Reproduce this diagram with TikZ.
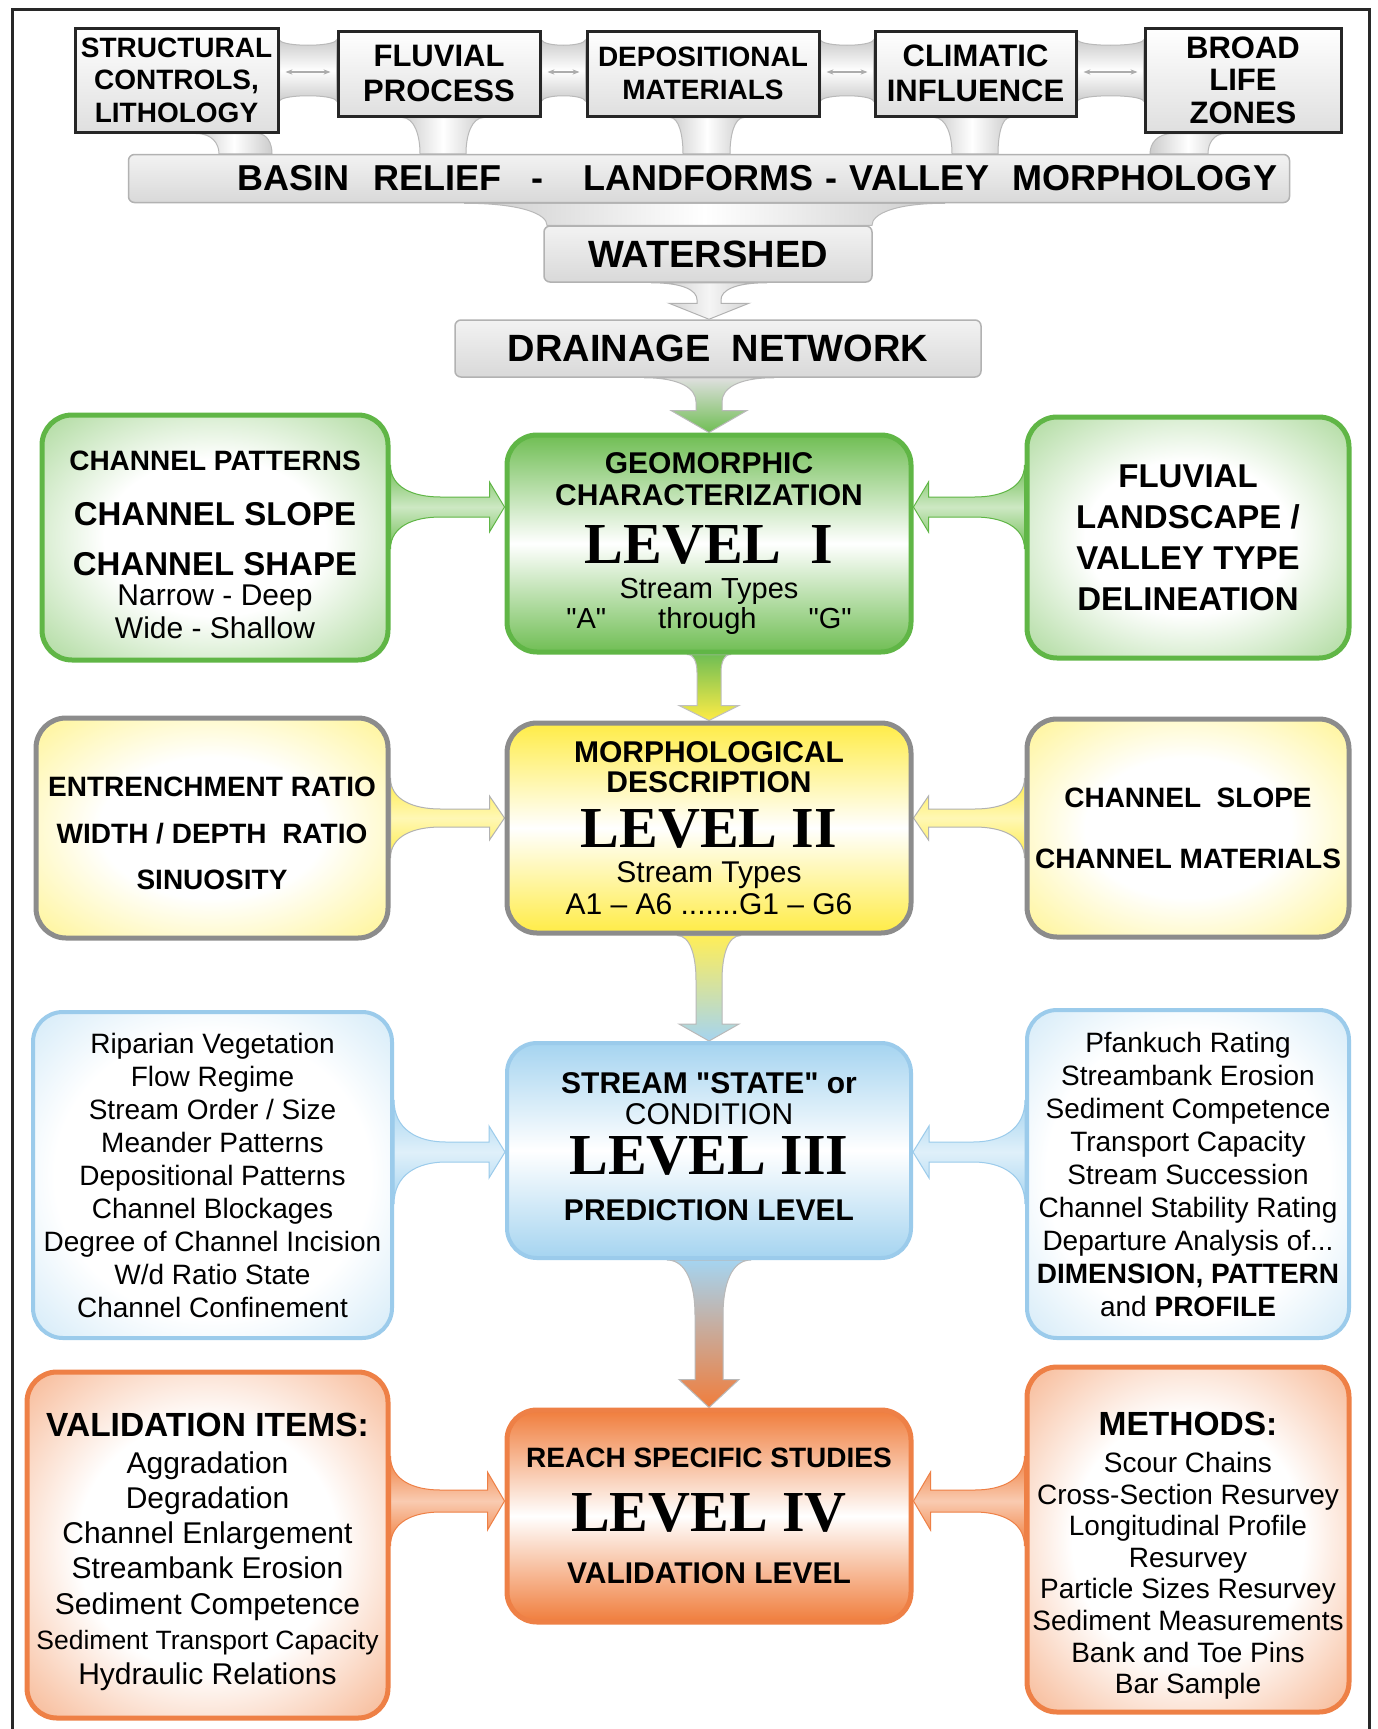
\documentclass[tikz,border=0pt]{standalone}
\usepackage{fontspec}
\setmainfont{Liberation Sans}[Ligatures=TeXOff]
\newfontfamily\levelfont{Liberation Serif}
\usetikzlibrary{calc,backgrounds,arrows.meta}

\definecolor{GrnFill}{RGB}{112,190,84}
\definecolor{GrnLine}{RGB}{96,182,70}
\definecolor{YelFill}{RGB}{255,236,70}
\definecolor{YelLine}{RGB}{140,140,140}
\definecolor{BluFill}{RGB}{165,212,240}
\definecolor{BluLine}{RGB}{155,203,235}
\definecolor{OrgFill}{RGB}{240,125,60}
\definecolor{OrgLine}{RGB}{238,128,70}
\definecolor{FrameGrey}{RGB}{40,40,40}

\newcommand\sz[2]{\fontsize{#1}{#2}\selectfont}
\newcommand\lvl[1]{{\levelfont\bfseries\sz{58}{58}#1}}

\pgfdeclareradialshading{glowgreen}{\pgfpoint{0bp}{0bp}}{color(0bp)=(white); color(16bp)=(white); color(50bp)=(GrnFill); color(60bp)=(GrnFill)}
\pgfdeclareradialshading{glowyellow}{\pgfpoint{0bp}{0bp}}{color(0bp)=(white); color(16bp)=(white); color(50bp)=(YelFill); color(60bp)=(YelFill)}
\pgfdeclareradialshading{glowblue}{\pgfpoint{0bp}{0bp}}{color(0bp)=(white); color(22bp)=(white); color(50bp)=(BluFill); color(60bp)=(BluFill)}
\pgfdeclareradialshading{gloworange}{\pgfpoint{0bp}{0bp}}{color(0bp)=(white); color(18bp)=(white); color(50bp)=(OrgFill); color(60bp)=(OrgFill)}

% band with a double arrow between two boxes of the top row
\newcommand\toplink[2]{%
  \path[linkband] let \p1=(#1.east |- bandtop), \p2=(#2.west |- bandbot) in
    (\x1,\y1) .. controls ({\x1+3pt},{\y1-7pt}) and ({\x2-3pt},{\y1-7pt}) .. (\x2,\y1)
    -- (\x2,\y2) .. controls ({\x2-3pt},{\y2+7pt}) and ({\x1+3pt},{\y2+7pt}) .. (\x1,\y2) -- cycle;
  \draw[linkarrow] ($(#1.east |- bandmid)+(6,0)$) -- ($(#2.west |- bandmid)+(-6,0)$);}

% neck from a box down to the box below it
\newcommand\neckdown[6]{%
  \path[neck] let \p1=(#1.south), \p2=(#2.north) in
    ({\x1+(#3)*1pt},\y1) .. controls ({\x1+(#3)*1pt+0.7*((#5)-(#3))*1pt},\y1) and ({\x1+(#5)*1pt},{0.5*\y1+0.5*\y2}) .. ({\x1+(#5)*1pt},\y2)
    -- ({\x1+(#6)*1pt},\y2) .. controls ({\x1+(#6)*1pt},{0.5*\y1+0.5*\y2}) and ({\x1+(#4)*1pt+0.7*((#6)-(#4))*1pt},\y1) .. ({\x1+(#4)*1pt},\y1) -- cycle;}

% funnel arrow down the middle
\newcommand\flowdown[8]{%
  \path[#8] let \p1=(#1.south -| axis), \p2=(#2.north -| axis) in
    ({\x1-(#3)*1pt},\y1) .. controls ({\x1-(#4)*1pt-0.3*((#3)-(#4))*1pt},\y1) and ({\x1-(#4)*1pt},{\y1-0.45*(#7)*1pt}) .. ({\x1-(#4)*1pt},{\y1-(#7)*1pt})
    -- ({\x1-(#4)*1pt},{\y2+(#6)*1pt}) -- ({\x1-(#5)*1pt},{\y2+(#6)*1pt}) -- (\x1,\y2)
    -- ({\x1+(#5)*1pt},{\y2+(#6)*1pt}) -- ({\x1+(#4)*1pt},{\y2+(#6)*1pt}) -- ({\x1+(#4)*1pt},{\y1-(#7)*1pt})
    .. controls ({\x1+(#4)*1pt},{\y1-0.45*(#7)*1pt}) and ({\x1+(#4)*1pt+0.3*((#3)-(#4))*1pt},\y1) .. ({\x1+(#3)*1pt},\y1) -- cycle;}

% funnel arrow from a side box into a level box
\newcommand\flowside[9]{%
  \path[#9] let \p1=(#1 |- #3), \p2=(#2 |- #3), \n1={sign(\x2-\x1)} in
    (\x1,{\y1+(#4)*1pt}) .. controls (\x1,{\y1+(#5)*1pt+0.3*((#4)-(#5))*1pt}) and ({\x1+\n1*0.45*(#8)*1pt},{\y1+(#5)*1pt}) .. ({\x1+\n1*(#8)*1pt},{\y1+(#5)*1pt})
    -- ({\x2-\n1*(#7)*1pt},{\y1+(#5)*1pt}) -- ({\x2-\n1*(#7)*1pt},{\y1+(#6)*1pt}) -- (\x2,\y1)
    -- ({\x2-\n1*(#7)*1pt},{\y1-(#6)*1pt}) -- ({\x2-\n1*(#7)*1pt},{\y1-(#5)*1pt}) -- ({\x1+\n1*(#8)*1pt},{\y1-(#5)*1pt})
    .. controls ({\x1+\n1*0.45*(#8)*1pt},{\y1-(#5)*1pt}) and (\x1,{\y1-(#5)*1pt-0.3*((#4)-(#5))*1pt}) .. (\x1,{\y1-(#4)*1pt}) -- cycle;}

\tikzset{
  topbox/.style={draw=black!85, line width=3pt, top color=white, bottom color=gray!25, inner sep=0pt, align=center, font=\bfseries\sz{28}{32.5}},
  greybar/.style={draw=gray!60, line width=1.5pt, rounded corners=6pt, top color=gray!10, bottom color=gray!30, inner sep=0pt, font=\bfseries\sz{38}{40}},
  sidebox/.style={line width=5pt, rounded corners=30pt, inner sep=0pt, align=center},
  levelbox/.style={sidebox, minimum width=404pt},
  linkband/.style={draw=gray!55, line width=1pt, top color=gray!40, bottom color=gray!40, middle color=white},
  neck/.style={draw=gray!55, line width=1pt, left color=gray!40, right color=gray!40, middle color=white},
  linkarrow/.style={arrows={Stealth[length=7pt]-Stealth[length=7pt]}, gray!65, line width=1.3pt},
  greyflow/.style={draw=gray!60, line width=1pt, left color=gray!45, right color=gray!45, middle color=gray!8},
  flowI/.style={draw=gray!55, line width=1pt, top color=gray!25, bottom color=GrnFill},
  flowII/.style={draw=gray!50, line width=1pt, top color=GrnFill, bottom color=YelFill},
  flowIII/.style={draw=gray!55, line width=1pt, top color=YelFill!90, bottom color=BluFill},
  flowIV/.style={draw=gray!55, line width=1pt, top color=BluFill, bottom color=OrgFill},
  grnarrow/.style={draw=GrnLine, line width=1pt, top color=GrnFill, bottom color=GrnFill, middle color=GrnFill!35},
  yelarrow/.style={draw=gray!60, line width=1pt, top color=YelFill, bottom color=YelFill, middle color=YelFill!40},
  bluarrow/.style={draw=BluLine, line width=1pt, top color=BluFill, bottom color=BluFill, middle color=BluFill!35},
  orgarrow/.style={draw=OrgLine, line width=1pt, top color=OrgFill, bottom color=OrgFill, middle color=OrgFill!40},
}

\begin{document}
\begin{tikzpicture}[x=1pt,y=-1pt]
\useasboundingbox (0,0) rectangle (1377,1729);
\coordinate (bandtop) at (0,40);
\coordinate (bandmid) at (0,72);
\coordinate (bandbot) at (0,101);
\coordinate (axis) at (709,0);
\coordinate (rowI) at (0,507);
\coordinate (rowII) at (0,818);
\coordinate (rowIII) at (0,1152);
\coordinate (rowIV) at (0,1501);

% top row
\node[topbox, minimum width=203pt, minimum height=104pt] (st) at (176.5,80) {STRUCTURAL\\CONTROLS,\\LITHOLOGY};
\node[topbox, minimum width=202pt, minimum height=85pt, font=\bfseries\sz{31}{35}] (fp) at (439,73.5) {FLUVIAL\\PROCESS};
\node[topbox, minimum width=232pt, minimum height=85pt, font=\bfseries\sz{28}{33}] (dm) at (703,73.5) {DEPOSITIONAL\\MATERIALS};
\node[topbox, minimum width=201pt, minimum height=85pt, font=\bfseries\sz{31}{35}] (ci) at (975.5,73.5) {CLIMATIC\\INFLUENCE};
\node[topbox, minimum width=196pt, minimum height=104pt, font=\bfseries\sz{31}{32.5}] (bl) at (1243,80) {BROAD\\LIFE\\ZONES};

\node[greybar, minimum width=1161pt, minimum height=48pt, font=\bfseries\sz{36}{38}, text width=1136pt, align=right] (br) at (709,178.5) {BASIN\ \ RELIEF\hspace{30pt}-\hspace{40pt}LANDFORMS - VALLEY\ \ MORPHOLOGY};
\node[greybar, minimum width=328pt, minimum height=56pt] (ws) at (708,254) {WATERSHED};
\node[greybar, minimum width=526pt, minimum height=57pt] (dn) at (718,348.5) {DRAINAGE\ \ NETWORK};

% levels
\node[levelbox, draw=GrnLine, top color=GrnFill, bottom color=GrnFill, middle color=white, minimum height=217pt, font=\bfseries\sz{30}{30}] (lv1) at (709,543.5)
  {GEOMORPHIC\\[2pt]CHARACTERIZATION\\[18.6pt]\lvl{LEVEL\ \ I}\\[5pt]\mdseries\sz{29}{30}Stream Types\\\mdseries\sz{29}{30}"A"\hspace{52pt}through\hspace{52pt}"G"};
\node[levelbox, draw=YelLine, top color=YelFill, bottom color=YelFill, middle color=white, minimum height=210pt, font=\bfseries\sz{30}{30}] (lv2) at (709,828)
  {MORPHOLOGICAL\\DESCRIPTION\\[15.6pt]\lvl{LEVEL II}\\[5pt]\mdseries Stream Types\\[2pt]\mdseries A1 – A6 .......G1 – G6};
\node[levelbox, line width=4pt, draw=BluLine, top color=BluFill, bottom color=BluFill, middle color=white, minimum height=215pt, font=\bfseries\sz{30}{30}] (lv3) at (709,1150.5)
  {STREAM "STATE" or\\[1pt]\mdseries CONDITION\\[10.6pt]\lvl{LEVEL III}\\[16pt]PREDICTION LEVEL\rule[-8pt]{0pt}{8pt}};
\node[levelbox, draw=OrgLine, top color=OrgFill, bottom color=OrgFill, middle color=white, minimum height=212pt, font=\bfseries\sz{30}{30}] (lv4) at (709,1516)
  {{\sz{28}{30}REACH SPECIFIC STUDIES}\\[24.6pt]\lvl{LEVEL IV}\\[22pt]VALIDATION LEVEL};

% left side
\node[sidebox, draw=GrnLine, shading=glowgreen, minimum width=346pt, minimum height=245pt, font=\bfseries\sz{28}{30}] (lg) at (215,537.5)
  {\rule{0pt}{34pt}CHANNEL PATTERNS\\[25pt]{\sz{33}{30}CHANNEL SLOPE}\\[20pt]{\sz{33}{30}CHANNEL SHAPE}\\[0pt]\mdseries\sz{30}{30}Narrow - Deep\\[3pt]\mdseries\sz{30}{30}Wide - Shallow};
\node[sidebox, draw=YelLine, shading=glowyellow, minimum width=352pt, minimum height=220pt, font=\bfseries\sz{28}{46.5}] (ly) at (212,828)
  {\rule{0pt}{31pt}ENTRENCHMENT RATIO\\WIDTH / DEPTH\ \ RATIO\\SINUOSITY};
\node[sidebox, line width=4pt, draw=BluLine, shading=glowblue, minimum width=359pt, minimum height=326pt, font=\sz{28}{33}] (lb) at (212.5,1175)
  {Riparian Vegetation\\Flow Regime\\Stream Order / Size\\Meander Patterns\\Depositional Patterns\\Channel Blockages\\Degree of Channel Incision\\W/d Ratio State\\Channel Confinement};
\node[sidebox, draw=OrgLine, shading=gloworange, minimum width=361pt, minimum height=346pt, font=\sz{30}{35.3}] (lo) at (207.5,1545)
  {\rule{0pt}{37pt}{\bfseries\sz{33.5}{35}VALIDATION ITEMS:}\\[1.7pt]Aggradation\\Degradation\\Channel Enlargement\\Streambank Erosion\\Sediment Competence\\{\sz{26.5}{30}Sediment Transport Capacity}\\Hydraulic Relations};

% right side
\node[sidebox, draw=GrnLine, shading=glowgreen, minimum width=322pt, minimum height=241pt, font=\bfseries\sz{33}{41}] (rg) at (1188,537.5)
  {FLUVIAL\\LANDSCAPE /\\VALLEY TYPE\\DELINEATION};
\node[sidebox, draw=YelLine, shading=glowyellow, minimum width=322pt, minimum height=218pt, font=\bfseries\sz{28}{61}] (ry) at (1188,828)
  {CHANNEL\ \ SLOPE\\CHANNEL MATERIALS};
\node[sidebox, line width=4pt, draw=BluLine, shading=glowblue, minimum width=322pt, minimum height=328pt, font=\sz{28}{33}] (rb) at (1188,1174)
  {Pfankuch Rating\\Streambank Erosion\\Sediment Competence\\Transport Capacity\\Stream Succession\\Channel Stability Rating\\Departure Analysis of...\\\textbf{DIMENSION, PATTERN}\\and \textbf{PROFILE}};
\node[sidebox, draw=OrgLine, shading=gloworange, minimum width=322pt, minimum height=345pt, font=\sz{28}{31.6}] (ro) at (1188,1539.5)
  {\rule{0pt}{56pt}{\bfseries\sz{33.5}{35}METHODS:}\\[5.4pt]Scour Chains\\Cross-Section Resurvey\\Longitudinal Profile\\Resurvey\\Particle Sizes Resurvey\\Sediment Measurements\\Bank and Toe Pins\\Bar Sample};

\begin{pgfonlayer}{background}
\fill[white] (0,0) rectangle (1377,1729);
\toplink{st}{fp}
\toplink{fp}{dm}
\toplink{dm}{ci}
\toplink{ci}{bl}
\neckdown{st}{br}{19.5}{80.5}{42.5}{95.5}
\neckdown{fp}{br}{-37}{45}{-19}{27}
\neckdown{dm}{br}{-33}{41}{-20}{27}
\neckdown{ci}{br}{-41.5}{34.5}{-23.5}{22.5}
\neckdown{bl}{br}{-70}{-17}{-93}{-35}
\neckdown{br}{ws}{-245}{236}{-162}{163}
\flowdown{ws}{dn}{58}{12}{40}{16}{17}{greyflow}
\flowdown{dn}{lv1}{65}{13}{38}{22}{24}{flowI}
\flowdown{lv1}{lv2}{22}{12}{30}{15}{18}{flowII}
\flowdown{lv2}{lv3}{32}{13}{30}{17}{45}{flowIII}
\flowdown{lv3}{lv4}{42}{14}{30}{28}{55}{flowIV}
\flowside{lg.east}{lv1.west}{rowI}{42}{10}{25}{15}{50}{grnarrow}
\flowside{rg.west}{lv1.east}{rowI}{42}{10}{25}{15}{50}{grnarrow}
\flowside{ly.east}{lv2.west}{rowII}{40}{9}{22}{15}{50}{yelarrow}
\flowside{ry.west}{lv2.east}{rowII}{40}{9}{22}{15}{50}{yelarrow}
\flowside{lb.east}{lv3.west}{rowIII}{52}{10}{26}{16}{52}{bluarrow}
\flowside{rb.west}{lv3.east}{rowIII}{52}{10}{26}{16}{52}{bluarrow}
\flowside{lo.east}{lv4.west}{rowIV}{45}{11}{29}{17}{50}{orgarrow}
\flowside{ro.west}{lv4.east}{rowIV}{45}{11}{29}{17}{50}{orgarrow}
\end{pgfonlayer}

\draw[line width=3pt, FrameGrey] (12,1729) -- (12,9) -- (1369,9) -- (1369,1729);
\end{tikzpicture}
\end{document}
